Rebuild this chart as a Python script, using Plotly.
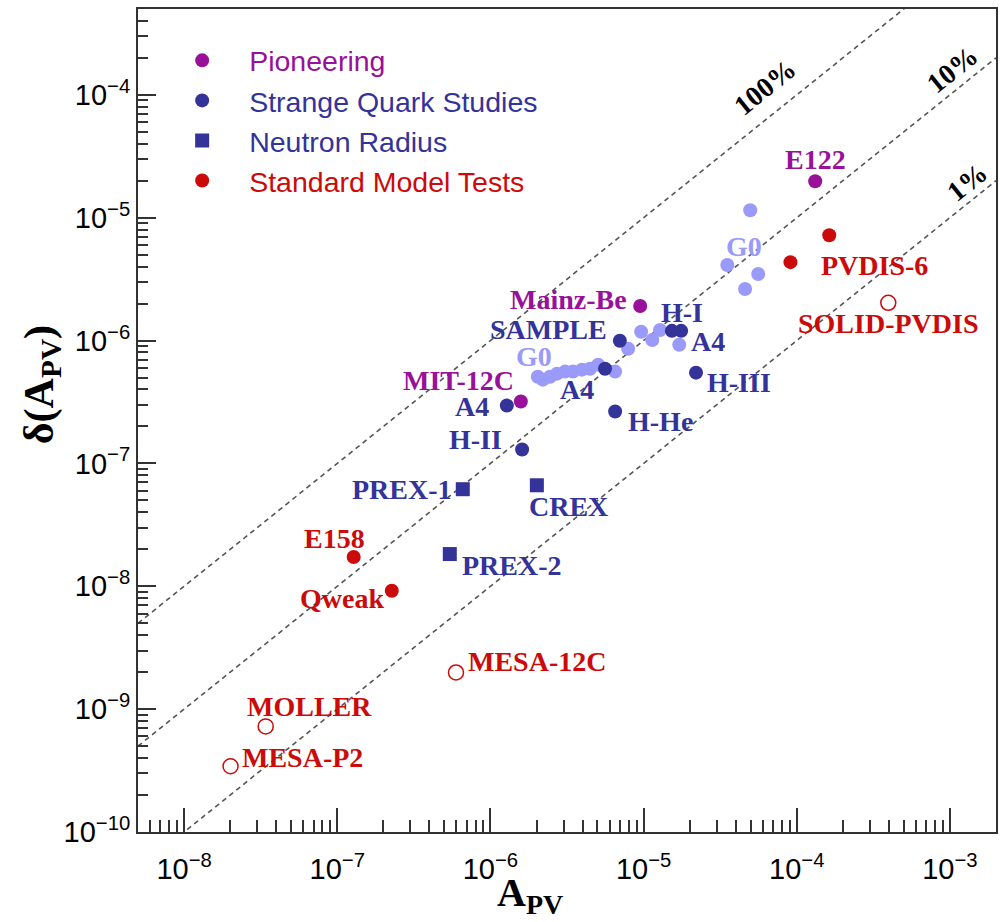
import numpy as np
import plotly.graph_objects as go

# ---------------- data ----------------
pion_names = ["E122", "Mainz-Be", "MIT-12C"]
pion_x = [1.32e-4, 9.5e-6, 1.58e-6]
pion_y = [1.98e-5, 1.91e-6, 3.19e-7]

sq_names = ["SAMPLE", "H-I", "", "A4", "A4", "H-III", "H-He", "H-II"]
sq_x = [7.0e-6, 1.53e-5, 1.76e-5, 1.28e-6, 5.6e-6, 2.2e-5, 6.52e-6, 1.61e-6]
sq_y = [9.96e-7, 1.20e-6, 1.20e-6, 2.96e-7, 5.9e-7, 5.48e-7, 2.65e-7, 1.30e-7]

g0_names = ["G0", "", "", "", "", "", "", "", "", "", "", "", "", "", "A4", "G0", "", "", ""]
g0_x = [2.04e-6, 2.20e-6, 2.45e-6, 2.72e-6, 3.07e-6, 3.46e-6, 3.96e-6, 4.47e-6, 5.05e-6,
        6.52e-6, 7.93e-6, 9.64e-6, 1.14e-5, 1.28e-5, 1.71e-5, 3.52e-5, 4.60e-5, 4.97e-5, 5.6e-5]
g0_y = [5.08e-7, 4.81e-7, 5.08e-7, 5.38e-7, 5.59e-7, 5.59e-7, 5.80e-7, 5.9e-7, 6.37e-7,
        5.59e-7, 8.59e-7, 1.18e-6, 1.01e-6, 1.22e-6, 9.25e-7, 4.12e-6, 2.63e-6, 1.15e-5, 3.48e-6]

nr_names = ["PREX-1", "CREX", "PREX-2"]
nr_x = [6.6e-7, 2.01e-6, 5.43e-7]
nr_y = [6.17e-8, 6.64e-8, 1.83e-8]

sm_names = ["E158", "Qweak", "PVDIS-6", ""]
sm_x = [1.28e-7, 2.27e-7, 9.1e-5, 1.63e-4]
sm_y = [1.73e-8, 9.2e-9, 4.35e-6, 7.2e-6]

fut_names = ["SOLID-PVDIS", "MESA-12C", "MOLLER", "MESA-P2"]
fut_x = [3.96e-4, 5.96e-7, 3.41e-8, 2.01e-8]
fut_y = [2.03e-6, 1.99e-9, 7.24e-10, 3.43e-10]

legend_names = ["Pioneering", "Strange Quark Studies", "Neutron Radius", "Standard Model Tests"]

precision_ratios = [1.0, 0.1, 0.01]
precision_labels = ["100%", "10%", "1%"]

x_range = [5e-9, 2e-3]
y_range = [1e-10, 5e-4]

x_tick_vals = [1e-8, 1e-7, 1e-6, 1e-5, 1e-4, 1e-3]
x_tick_text = ["10<sup>−8</sup>", "10<sup>−7</sup>", "10<sup>−6</sup>",
               "10<sup>−5</sup>", "10<sup>−4</sup>", "10<sup>−3</sup>"]
y_tick_vals = [1e-10, 1e-9, 1e-8, 1e-7, 1e-6, 1e-5, 1e-4]
y_tick_text = ["10<sup>−10</sup>", "10<sup>−9</sup>", "10<sup>−8</sup>", "10<sup>−7</sup>",
               "10<sup>−6</sup>", "10<sup>−5</sup>", "10<sup>−4</sup>"]

# ---------------- styles ----------------
PURPLE = "#99109a"
DBLUE = "#333399"
LBLUE = "#9a9afa"
RED = "#cc0a0a"
SERIF = "Liberation Serif"
SANS = "Liberation Sans"

# label placement (xanchor, xshift px, yshift px), keyed by (group, index)
label_pos = {
    ("pion", 0): ("center", 0, 22),
    ("pion", 1): ("right", -11, 7),
    ("pion", 2): ("right", -5, 21),
    ("sq", 0): ("right", -11, 11),
    ("sq", 1): ("center", 10, 18),
    ("sq", 3): ("right", -16, -1),
    ("sq", 4): ("right", -9, -21),
    ("sq", 5): ("left", 9, -10),
    ("sq", 6): ("left", 11, -10),
    ("sq", 7): ("right", -18, 10),
    ("g0", 0): ("center", -4, 20),
    ("g0", 14): ("left", 10, 3),
    ("g0", 15): ("center", 17, 19),
    ("nr", 0): ("right", -9, 0),
    ("nr", 1): ("left", -10, -21),
    ("nr", 2): ("left", 10, -11),
    ("sm", 0): ("center", -19, 19),
    ("sm", 1): ("right", -6, -8),
    ("sm", 2): ("left", 29, -3),
    ("fut", 0): ("center", 0, -21),
    ("fut", 1): ("left", 10, 11),
    ("fut", 2): ("center", 44, 20),
    ("fut", 3): ("left", 9, 9),
}
label_color = {"pion": PURPLE, "sq": DBLUE, "g0": LBLUE, "nr": DBLUE, "sm": RED, "fut": RED}
label_color_override = {("g0", 14): DBLUE}

fig = go.Figure()

# precision reference lines
for r in precision_ratios:
    xs = np.array(x_range)
    fig.add_trace(go.Scatter(x=xs, y=xs * r, mode="lines",
                             line=dict(color="#555555", width=1.6, dash="5px,4px"),
                             showlegend=False, hoverinfo="skip"))

MS = 14
fig.add_trace(go.Scatter(x=g0_x, y=g0_y, mode="markers", showlegend=False,
                         marker=dict(color=LBLUE, size=MS, symbol="circle")))
fig.add_trace(go.Scatter(x=pion_x, y=pion_y, mode="markers",
                         name=f'<span style="color:{PURPLE}">{legend_names[0]}</span>',
                         marker=dict(color=PURPLE, size=MS, symbol="circle")))
fig.add_trace(go.Scatter(x=sq_x, y=sq_y, mode="markers",
                         name=f'<span style="color:{DBLUE}">{legend_names[1]}</span>',
                         marker=dict(color=DBLUE, size=MS, symbol="circle")))
fig.add_trace(go.Scatter(x=nr_x, y=nr_y, mode="markers",
                         name=f'<span style="color:{DBLUE}">{legend_names[2]}</span>',
                         marker=dict(color=DBLUE, size=MS, symbol="square")))
fig.add_trace(go.Scatter(x=sm_x, y=sm_y, mode="markers",
                         name=f'<span style="color:{RED}">{legend_names[3]}</span>',
                         marker=dict(color=RED, size=MS, symbol="circle")))
fig.add_trace(go.Scatter(x=fut_x, y=fut_y, mode="markers", showlegend=False,
                         marker=dict(color=RED, size=15, symbol="circle-open",
                                     line=dict(color=RED, width=1.5))))

# text labels
groups = {"pion": (pion_names, pion_x, pion_y), "sq": (sq_names, sq_x, sq_y),
          "g0": (g0_names, g0_x, g0_y), "nr": (nr_names, nr_x, nr_y),
          "sm": (sm_names, sm_x, sm_y), "fut": (fut_names, fut_x, fut_y)}
for g, (names, xs, ys) in groups.items():
    for i, (n, xv, yv) in enumerate(zip(names, xs, ys)):
        if not n:
            continue
        xa, dx, dy = label_pos[(g, i)]
        col = label_color_override.get((g, i), label_color[g])
        fig.add_annotation(x=np.log10(xv), y=np.log10(yv), xref="x", yref="y", text=n,
                           showarrow=False, xanchor=xa, yanchor="middle",
                           xshift=dx, yshift=dy,
                           font=dict(family=SERIF, size=28, color=col, weight="bold"))

# precision line labels
pct_pos = [(-4.21, -3.94), (-2.985, -3.79), (-2.89, -4.71)]
for t, (lx, ly) in zip(precision_labels, pct_pos):
    fig.add_annotation(x=lx, y=ly, xref="x", yref="y", text=t, showarrow=False,
                       textangle=-39, font=dict(family=SERIF, size=28, color="black", weight="bold"))

# axis titles
fig.add_annotation(x=0.457, y=-0.077, xref="paper", yref="paper", yanchor="middle",
                   text="A<sub>PV</sub>", showarrow=False,
                   font=dict(family=SERIF, size=40, color="black", weight="bold"))
fig.add_annotation(x=-0.112, y=0.544, xref="paper", yref="paper", textangle=-90,
                   xanchor="center", yanchor="middle",
                   text="δ(A<sub>PV</sub>)", showarrow=False,
                   font=dict(family=SERIF, size=42, color="black", weight="bold"))

def minors(lo, hi):
    out = []
    for e in range(lo, hi):
        for m in range(2, 10):
            out.append(m * 10.0 ** e)
    return out

fig.update_xaxes(type="log", range=[np.log10(x_range[0]), np.log10(x_range[1])],
                 showgrid=False, zeroline=False, showline=True, mirror=True,
                 linecolor="#333333", linewidth=2,
                 tickmode="array", tickvals=x_tick_vals, ticktext=x_tick_text,
                 ticks="inside", ticklen=24, tickwidth=1.5, tickcolor="#333333",
                 ticklabelstandoff=10,
                 tickfont=dict(family=SANS, size=29, color="black"),
                 minor=dict(tickmode="array", tickvals=minors(-9, -2), ticks="inside",
                            ticklen=12, tickwidth=1.5, tickcolor="#333333", showgrid=False))
fig.update_yaxes(type="log", range=[np.log10(y_range[0]), np.log10(y_range[1])],
                 showgrid=False, zeroline=False, showline=True, mirror=True,
                 linecolor="#333333", linewidth=2,
                 tickmode="array", tickvals=y_tick_vals, ticktext=y_tick_text,
                 ticks="inside", ticklen=18, tickwidth=1.5, tickcolor="#333333",
                 tickfont=dict(family=SANS, size=29, color="black"),
                 minor=dict(tickmode="array", tickvals=minors(-10, -3), ticks="inside",
                            ticklen=10, tickwidth=1.5, tickcolor="#333333", showgrid=False))

fig.update_layout(
    width=1005, height=922,
    margin=dict(l=138, r=9, t=7, b=90),
    paper_bgcolor="white", plot_bgcolor="white",
    legend=dict(x=0.02, y=0.968, xanchor="left", yanchor="top",
                bgcolor="rgba(0,0,0,0)", borderwidth=0,
                itemwidth=84, font=dict(family=SANS, size=28.5),
                tracegroupgap=0),
    showlegend=True,
)

fig.write_html("out.html", config={"displayModeBar": False},
               post_script="document.body.style.margin='0px';")
